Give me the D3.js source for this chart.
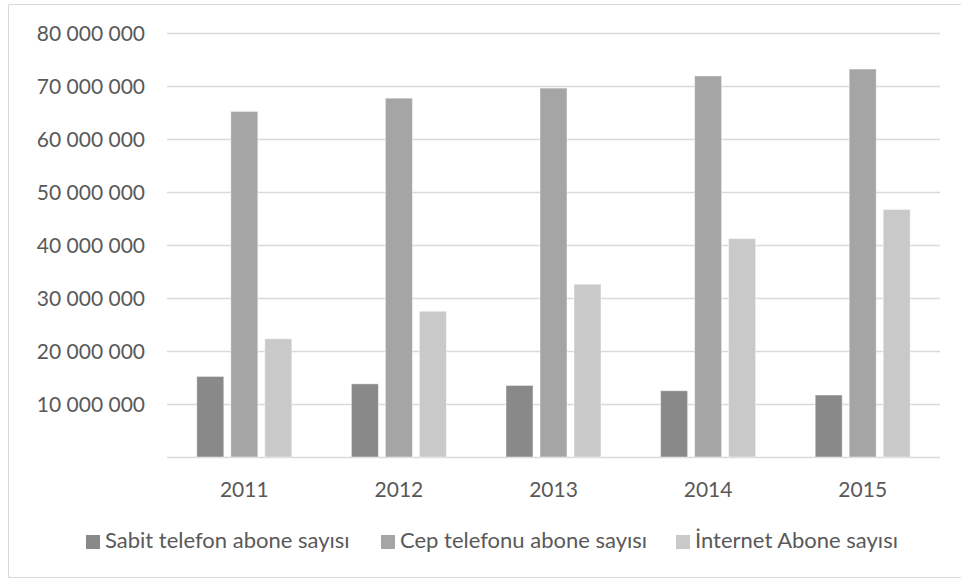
<!DOCTYPE html>
<html>
<head>
<meta charset="utf-8">
<script src="https://cdn.jsdelivr.net/npm/d3@7/dist/d3.min.js"></script>
<style>
  html, body { margin: 0; padding: 0; background: #ffffff; }
  svg { display: block; }
  text { font-family: Lato, "Open Sans", sans-serif; fill: #595959; }
</style>
</head>
<body>
<svg id="chart" width="961" height="580"></svg>
<script>
// Subscriber counts per year (Turkey, 2011–2015)
const years = ["2011", "2012", "2013", "2014", "2015"];
const seriesNames = ["Sabit telefon abone sayısı", "Cep telefonu abone sayısı", "İnternet Abone sayısı"];
const fixedLine = [15200000, 13800000, 13500000, 12500000, 11700000];
const mobile    = [65200000, 67700000, 69600000, 71900000, 73200000];
const internet  = [22300000, 27500000, 32600000, 41200000, 46700000];
const yTicks = [10000000, 20000000, 30000000, 40000000, 50000000, 60000000, 70000000, 80000000];
const colors = ["#898989", "#a5a5a5", "#c9c9c9"];

const seriesValues = [fixedLine, mobile, internet];
const rows = years.map((y, i) => ({ year: y, values: seriesValues.map(s => s[i]) }));

const fontSize = 21;
const legendFontSize = 22;
const svg = d3.select("#chart");

// chart area frame
svg.append("path")
  .attr("d", "M965,4.5 H8.5 V577.5 H965")
  .attr("fill", "none").attr("stroke", "#d9d9d9").attr("stroke-width", 1);

const plot = { left: 167, right: 940, top: 33, bottom: 457 };

const x = d3.scaleBand().domain(years).range([plot.left, plot.right]).paddingInner(0).paddingOuter(0);
const y = d3.scaleLinear().domain([0, 80000000]).range([plot.bottom, plot.top]);

// bar slot within each year: 27px bars with 7px gaps, centred
const barW = 27, gap = 7, step = barW + gap;
const padIn = gap / step;
const padOut = (x.bandwidth() / step - 3 + padIn) / 2;
const xs = d3.scaleBand().domain(d3.range(3)).range([0, x.bandwidth()]).paddingInner(padIn).paddingOuter(padOut);

// gridlines (including baseline)
const yAxis = d3.axisLeft(y).tickValues([0].concat(yTicks)).tickSize(-(plot.right - plot.left)).tickFormat("");
const gGrid = svg.append("g").attr("transform", `translate(${plot.left},0)`).call(yAxis);
gGrid.select(".domain").remove();
gGrid.selectAll(".tick line").attr("stroke", "#d9d9d9").attr("stroke-width", 1.3);

// y labels
const fmt = v => d3.format(",")(v).replace(/,/g, " ");
svg.append("g").selectAll("text").data(yTicks).join("text")
  .attr("x", 145).attr("y", d => y(d)).attr("dy", "0.36em")
  .attr("text-anchor", "end").attr("font-size", fontSize)
  .text(fmt);

// bars
const groups = svg.append("g").selectAll("g").data(rows).join("g")
  .attr("transform", d => `translate(${x(d.year)},0)`);
groups.selectAll("rect").data(d => d.values.map((v, k) => ({ v, k }))).join("rect")
  .attr("x", d => xs(d.k)).attr("width", xs.bandwidth())
  .attr("y", d => y(d.v)).attr("height", d => y(0) - y(d.v))
  .attr("fill", d => colors[d.k])
  .attr("stroke", "#ffffff").attr("stroke-opacity", 0.45).attr("stroke-width", 1);

// x labels
const xAxis = d3.axisBottom(x).tickSize(0).tickPadding(0);
const gX = svg.append("g").attr("transform", `translate(0,${plot.bottom})`).call(xAxis);
gX.select(".domain").remove();
gX.selectAll("text").attr("y", 40).attr("dy", 0).attr("font-size", fontSize)
  .attr("font-family", null).style("fill", "#595959");

// legend
const legendX = [86, 381, 676];
const leg = svg.append("g").selectAll("g").data(seriesNames).join("g")
  .attr("transform", (d, i) => `translate(${legendX[i]},548)`);
leg.append("rect").attr("x", 0).attr("y", -13).attr("width", 14).attr("height", 14)
  .attr("fill", (d, i) => colors[i]);
leg.append("text").attr("x", 19).attr("y", 0).attr("font-size", legendFontSize).text(d => d);
</script>
</body>
</html>
